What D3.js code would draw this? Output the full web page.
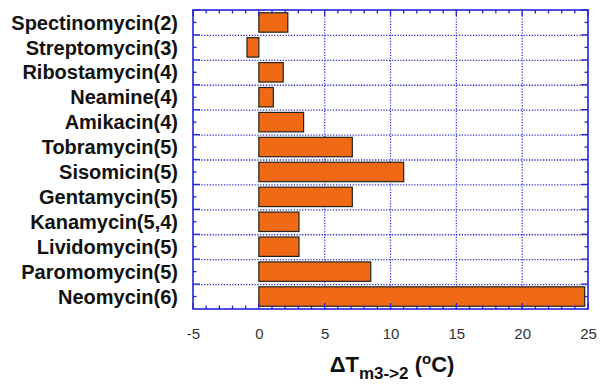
<!DOCTYPE html>
<html><head><meta charset="utf-8">
<script src="https://cdn.jsdelivr.net/npm/d3@7"></script>
<style>body{margin:0;background:#fff}svg{display:block}</style>
</head><body>
<svg id="c" width="601" height="387"></svg>
<script>
const categories = ["Spectinomycin(2)","Streptomycin(3)","Ribostamycin(4)","Neamine(4)","Amikacin(4)","Tobramycin(5)","Sisomicin(5)","Gentamycin(5)","Kanamycin(5,4)","Lividomycin(5)","Paromomycin(5)","Neomycin(6)"];
const values = [2.2, -0.9, 1.85, 1.1, 3.4, 7.1, 11.0, 7.1, 3.05, 3.05, 8.5, 24.75];
const xTicks = [-5, 0, 5, 10, 15, 20, 25];

const svg = d3.select("#c");
const L = 193, R = 588, T = 10, B = 309;
const blue = "#2424d8";
const x = d3.scaleLinear().domain([-5, 25]).range([L, R]);
const y = d3.scaleBand().domain(categories).range([T, B]).paddingInner(0.22).paddingOuter(0.11);
const yRow = d3.scaleBand().domain(categories).range([T, B]);

// grid
const g = svg.append("g");
g.selectAll(".vg").data([5,10,15,20]).join("line")
  .attr("x1", d => x(d)).attr("x2", d => x(d)).attr("y1", T).attr("y2", B)
  .attr("stroke", blue).attr("stroke-width", 1.2).attr("stroke-dasharray", "1.2,1.6");
g.selectAll(".hg").data(categories.slice(1)).join("line")
  .attr("x1", L).attr("x2", R).attr("y1", d => yRow(d)+0.5).attr("y2", d => yRow(d)+0.5)
  .attr("stroke", blue).attr("stroke-width", 1.3).attr("stroke-dasharray", "1.2,1.6");

// bars
svg.selectAll(".bar").data(values).join("rect")
  .attr("x", d => x(Math.min(0, d)))
  .attr("width", d => Math.abs(x(d) - x(0)))
  .attr("y", (d, i) => y(categories[i]))
  .attr("height", y.bandwidth())
  .attr("fill", "#f06a16").attr("stroke", "#222").attr("stroke-width", 1.2);

// ticks x (minor every 1, major every 5), top and bottom inward
const ax = svg.append("g");
const minor = d3.range(-5, 26, 1);
minor.forEach(v => {
  const len = v % 5 === 0 ? 6 : 3.5;
  ax.append("line").attr("x1", x(v)).attr("x2", x(v)).attr("y1", B).attr("y2", B - len).attr("stroke", blue).attr("stroke-width", 1.3);
  ax.append("line").attr("x1", x(v)).attr("x2", x(v)).attr("y1", T).attr("y2", T + len).attr("stroke", blue).attr("stroke-width", 1.3);
});
// y ticks: major at row boundaries, minor at row centers
categories.forEach((c, i) => {
  const yb = yRow(c), yc = yRow(c) + yRow.bandwidth()/2;
  [[yb, 7], [yc, 3.5]].forEach(([yy, len]) => {
    ax.append("line").attr("x1", L).attr("x2", L + len).attr("y1", yy).attr("y2", yy).attr("stroke", blue).attr("stroke-width", 1.3);
    ax.append("line").attr("x1", R).attr("x2", R - len).attr("y1", yy).attr("y2", yy).attr("stroke", blue).attr("stroke-width", 1.3);
  });
});
// frame
svg.append("rect").attr("x", L).attr("y", T).attr("width", R - L).attr("height", B - T)
  .attr("fill", "none").attr("stroke", blue).attr("stroke-width", 1.6);

// x tick labels via axis
const xa = svg.append("g").attr("transform", `translate(0,${B})`)
  .call(d3.axisBottom(x).tickValues(xTicks).tickSize(0).tickPadding(19).tickFormat(d => String(d)));
xa.select(".domain").remove();
xa.selectAll("text").attr("font-family", "Liberation Sans, Arial, sans-serif").attr("font-size", 15).attr("fill", "#333");

// y labels
svg.selectAll(".yl").data(categories).join("text")
  .attr("x", 178).attr("y", d => yRow(d) + yRow.bandwidth()/2)
  .attr("dy", "0.36em").attr("text-anchor", "end")
  .attr("font-family", "Liberation Sans, Arial, sans-serif").attr("font-weight", "bold").attr("font-size", 20)
  .attr("fill", "#111").text(d => d);

// axis title
const t = svg.append("text").attr("x", 392).attr("y", 372).attr("text-anchor", "middle")
  .attr("font-family", "Liberation Sans, Arial, sans-serif").attr("font-weight", "bold").attr("font-size", 22).attr("fill", "#111");
t.append("tspan").text("\u0394T");
t.append("tspan").attr("font-size", 17).attr("dy", 7).text("m3->2");
t.append("tspan").attr("dy", -7).text(" (");
t.append("tspan").attr("font-size", 15).attr("dy", -8).text("o");
t.append("tspan").attr("dy", 8).text("C)");
</script>
</body></html>
